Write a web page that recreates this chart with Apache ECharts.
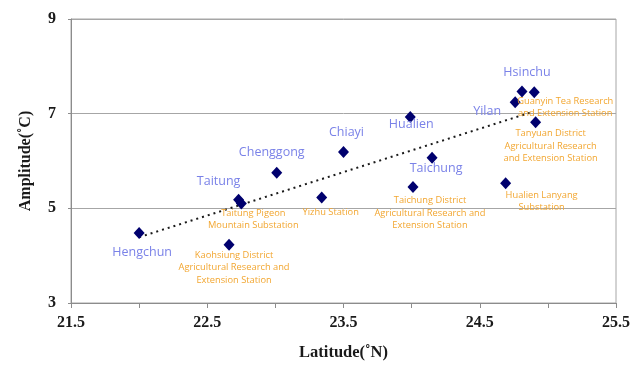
<!DOCTYPE html>
<html><head><meta charset="utf-8">
<script src="https://cdn.jsdelivr.net/npm/echarts@6/dist/echarts.min.js"></script>
<style>html,body{margin:0;padding:0;background:#fff}#c{width:633px;height:369px}</style>
</head><body><div id="c"></div>
<script>
// ---- data ----
const stationNames = [
  'Hengchun',
  'Kaohsiung District\nAgricultural Research and\nExtension Station',
  'Taitung',
  'Taitung Pigeon\nMountain Substation',
  'Chenggong',
  'Yizhu Station',
  'Chiayi',
  'Hualien',
  'Taichung District\nAgricultural Research and\nExtension Station',
  'Taichung',
  'Hualien Lanyang\nSubstation',
  'Yilan',
  'Hsinchu',
  'Guanyin Tea Research\nand Extension Station',
  'Tanyuan District\nAgricultural Research\nand Extension Station'
];
const latitude  = [22.00, 22.66, 22.73, 22.75, 23.01, 23.34, 23.50, 23.99, 24.01, 24.15, 24.69, 24.76, 24.81, 24.90, 24.91];
const amplitude = [4.48, 4.23, 5.18, 5.10, 5.75, 5.23, 6.19, 6.93, 5.45, 6.07, 5.53, 7.24, 7.47, 7.45, 6.82];
const labelGroup = ['blue','orange','blue','orange','blue','orange','blue','blue','orange','blue','orange','blue','blue','orange','orange'];
const trendLat = [22.00, 24.89];
const trendAmp = [4.39, 7.04];
const xTicks = [21.5, 22.5, 23.5, 24.5, 25.5];
const yTicks = [3, 5, 7, 9];

// ---- styling (label placement relative to each marker) ----
const labelOffsets = [[3,19],[5,23],[-20,-18],[12,16],[-5,-20],[9,15],[3,-20],[1,7],[17,26],[4,11],[36,18],[-28,9],[5,-19],[31,15],[15,24]];
const BLUE = '#7a82e8', ORANGE = '#f2a630', FONT = '"Open Sans","Noto Sans",sans-serif';
const SERIF = '"Liberation Serif","Times New Roman",serif';

const pts = latitude.map((x,i)=>({
  value:[x, amplitude[i]],
  label:{
    show:true, position:'inside', offset:labelOffsets[i],
    formatter: stationNames[i],
    color: labelGroup[i]==='blue'?BLUE:ORANGE,
    fontSize: labelGroup[i]==='blue'?12.5:9.3,
    lineHeight: labelGroup[i]==='blue'?14:12.5,
    fontFamily: FONT, align:'center', verticalAlign:'middle'
  }
}));

const chart = echarts.init(document.getElementById('c'));
chart.setOption({
  animation:false,
  grid:{left:71,right:11,top:19,bottom:66,show:true,borderColor:'#a6a6a6',borderWidth:1},
  xAxis:{
    type:'value', min:21.5, max:25.5, interval:0.5,
    name:'Latitude(˚N)', nameLocation:'middle', nameGap:41,
    nameTextStyle:{fontFamily:SERIF,fontWeight:'bold',fontSize:16.5,color:'#1a1a1a'},
    axisLine:{show:true,lineStyle:{color:'#8c8c8c'}},
    axisTick:{show:true,length:5,lineStyle:{color:'#8c8c8c'}},
    axisLabel:{margin:12,fontFamily:SERIF,fontWeight:'bold',fontSize:16,color:'#1a1a1a',
      formatter:v=> xTicks.some(t=>Math.abs(t-v)<1e-6)? v.toFixed(1):''},
    splitLine:{show:false}
  },
  yAxis:{
    type:'value', min:3, max:9, interval:2,
    name:'Amplitude(˚C)', nameLocation:'middle', nameGap:37,
    nameTextStyle:{fontFamily:SERIF,fontWeight:'bold',fontSize:16,color:'#1a1a1a'},
    axisLine:{show:true,lineStyle:{color:'#8c8c8c'}},
    axisTick:{show:true,length:3,lineStyle:{color:'#8c8c8c'}},
    axisLabel:{margin:15,fontFamily:SERIF,fontWeight:'bold',fontSize:16,color:'#1a1a1a',
      formatter:v=> yTicks.includes(v)? String(v):''},
    splitLine:{show:true,lineStyle:{color:'#a6a6a6',width:1}}
  },
  series:[
    {type:'line', data:trendLat.map((x,i)=>[x,trendAmp[i]]), symbol:'none', silent:true,
      lineStyle:{color:'#1a1a1a',width:2,type:[2,4]}, z:1},
    {type:'scatter', data:pts, symbol:'diamond', symbolSize:[11,12],
      itemStyle:{color:'#00006e',opacity:1}, z:3}
  ]
});
</script></body></html>
